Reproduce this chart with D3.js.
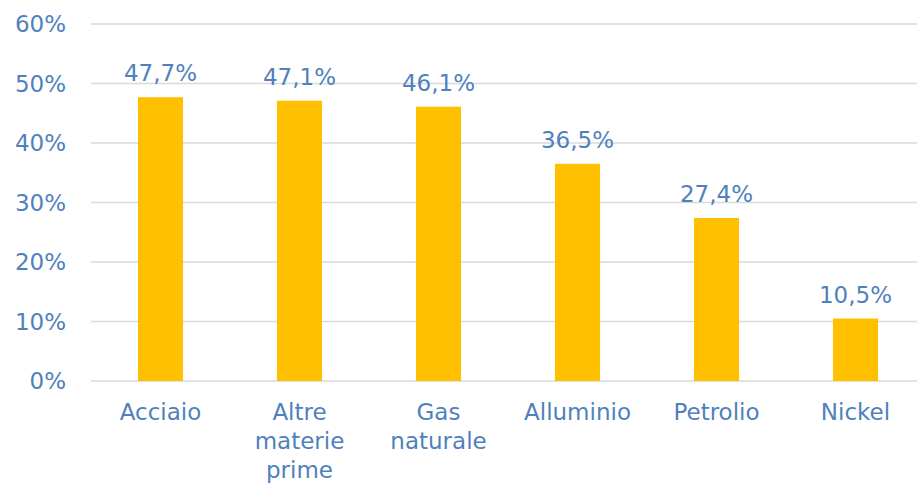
<!DOCTYPE html>
<html>
<head>
<meta charset="utf-8">
<script src="https://cdn.jsdelivr.net/npm/d3@7"></script>
<style>
  body { margin: 0; background: #fff; }
  text { font-family: "DejaVu Sans", Verdana, sans-serif; }
</style>
</head>
<body>
<svg id="chart"></svg>
<script>
// categories (multi-line labels split on |)
const categories = ["Acciaio", "Altre|materie|prime", "Gas|naturale", "Alluminio", "Petrolio", "Nickel"];
const values = [47.7, 47.1, 46.1, 36.5, 27.4, 10.5];
const yTicks = [0, 10, 20, 30, 40, 50, 60];

const W = 917, H = 484;
const margin = {left: 91, right: -8, top: 24, bottom: 103};
const width = W - margin.left - margin.right;
const height = H - margin.top - margin.bottom;

const blue = "#4F81BD";

const svg = d3.select("#chart")
    .attr("width", W)
    .attr("height", H);

const g = svg.append("g")
    .attr("transform", "translate(" + margin.left + "," + margin.top + ")");

const xScale = d3.scaleBand()
    .domain(categories)
    .range([0, width])
    .paddingInner(0.676)
    .paddingOuter(0.338);

const yScale = d3.scaleLinear()
    .domain([0, 60])
    .range([height, 0]);

// gridlines
g.selectAll("line.grid")
    .data(yTicks)
    .join("line")
    .attr("class", "grid")
    .attr("x1", 0)
    .attr("x2", W - margin.left)
    .attr("y1", d => yScale(d))
    .attr("y2", d => yScale(d))
    .attr("stroke", "#d9d9d9")
    .attr("stroke-width", 1.3);

// y axis labels
g.selectAll("text.ytick")
    .data(yTicks)
    .join("text")
    .attr("class", "ytick")
    .attr("x", -25)
    .attr("y", d => yScale(d))
    .attr("dy", "0.36em")
    .attr("text-anchor", "end")
    .attr("fill", blue)
    .attr("font-size", 23)
    .text(d => d + "%");

// bars
g.selectAll("rect.bar")
    .data(values)
    .join("rect")
    .attr("class", "bar")
    .attr("x", (d, i) => xScale(categories[i]))
    .attr("width", xScale.bandwidth())
    .attr("y", d => yScale(d))
    .attr("height", d => yScale(0) - yScale(d))
    .attr("fill", "#FFC000");

// value labels
g.selectAll("text.val")
    .data(values)
    .join("text")
    .attr("class", "val")
    .attr("x", (d, i) => xScale(categories[i]) + xScale.bandwidth() / 2)
    .attr("y", d => yScale(d) - 16)
    .attr("text-anchor", "middle")
    .attr("fill", blue)
    .attr("font-size", 23)
    .text(d => d.toFixed(1).replace(".", ",") + "%");

// category labels
const cat = g.selectAll("text.cat")
    .data(categories)
    .join("text")
    .attr("class", "cat")
    .attr("x", d => xScale(d) + xScale.bandwidth() / 2)
    .attr("y", height + 39)
    .attr("text-anchor", "middle")
    .attr("fill", blue)
    .attr("font-size", 23);

cat.each(function(d) {
    const t = d3.select(this);
    d.split("|").forEach((line, k) => {
        t.append("tspan")
            .attr("x", t.attr("x"))
            .attr("dy", k === 0 ? 0 : 29)
            .text(line);
    });
});
</script>
</body>
</html>
